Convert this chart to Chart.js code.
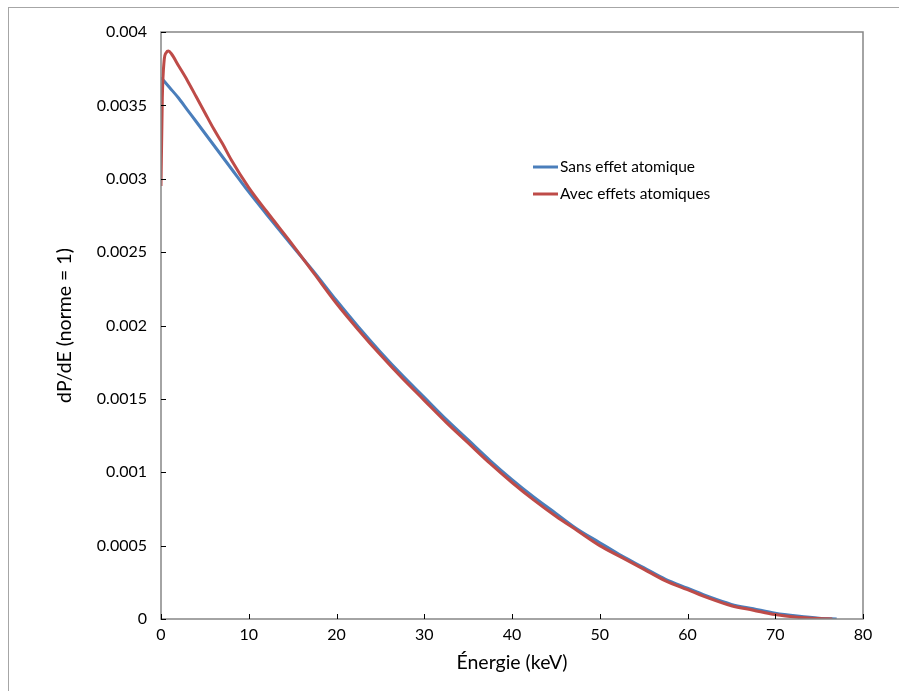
<!DOCTYPE html>
<html>
<head>
<meta charset="utf-8">
<script src="https://cdn.jsdelivr.net/npm/chart.js@4.4.0/dist/chart.umd.min.js"></script>
<style>
  body { margin: 0; background: #fff; }
  #wrap { position: relative; width: 899px; height: 691px; }
  #frame { position: absolute; left: 8px; top: 7px; right: -2px; bottom: -2px;
           border-left: 1px solid #a6a6a6; border-top: 1px solid #a6a6a6; }
  canvas { position: absolute; left: 0; top: 0; }
</style>
</head>
<body>
<div id="wrap">
  <div id="frame"></div>
  <canvas id="spectre" width="899" height="691"></canvas>
</div>
<script>
// Energy grid (keV) and spectra
const energySans = [0, 1, 2, 3, 4, 5, 6, 8, 10, 12, 15, 17.5, 20, 22.5, 25, 27.5, 30, 32.5, 35, 37.5, 40,
    42.5, 45, 47.5, 50, 52.5, 55, 57.5, 60, 62.5, 65, 67.5, 70, 72.5, 75, 77];
const sansEffet = [0.00369, 0.00362, 0.00355, 0.00347, 0.00339, 0.00331, 0.00323, 0.00307, 0.00291, 0.00276,
    0.00254, 0.00236, 0.00217, 0.00199, 0.00182, 0.00166, 0.00151, 0.00136, 0.00122, 0.00108, 0.00095,
    0.00083, 0.00072, 0.00061, 0.00052, 0.00043, 0.00035, 0.00027, 0.00021, 0.00015, 0.00010, 0.00007,
    0.00004, 0.00002, 0.000005, 0];

const energyAvec = [0, 0.15, 0.35, 0.6, 0.85, 1.2, 2, 3, 4, 5, 6, 7, 8, 10, 12, 15, 17.5, 20, 22.5, 25, 27.5, 30,
    32.5, 35, 37.5, 40, 42.5, 45, 47.5, 50, 52.5, 55, 57.5, 60, 62.5, 65, 67.5, 70, 72.5, 75, 76.5];
const avecEffets = [0.00295, 0.00355, 0.00380, 0.00386, 0.00387, 0.00385, 0.00377, 0.00367, 0.00356, 0.00345,
    0.00334, 0.00324, 0.00313, 0.00294, 0.00278, 0.00255, 0.00235, 0.00215, 0.00197, 0.00180, 0.00164, 0.00149,
    0.00134, 0.00120, 0.00106, 0.00093, 0.00081, 0.00070, 0.00060, 0.00050, 0.00042, 0.00034, 0.00026,
    0.00020, 0.00014, 0.00009, 0.00006, 0.00003, 0.000012, 0.000003, 0];

const xTicks = [0, 10, 20, 30, 40, 50, 60, 70, 80];
const yTickLabels = ['0', '0.0005', '0.001', '0.0015', '0.002', '0.0025', '0.003', '0.0035', '0.004'];

const blue = '#4a7ebb';
const red = '#be4b48';
const axisGray = '#868686';

function toPoints(xs, ys) {
    return xs.map((x, i) => ({ x: x, y: ys[i] }));
}

// Box, inner tick marks and the legend
const decorPlugin = {
    id: 'decor',
    afterDraw(chart) {
        const { ctx, chartArea: a, scales } = chart;
        ctx.save();
        ctx.strokeStyle = axisGray;
        ctx.lineWidth = 1.5;
        ctx.strokeRect(a.left, a.top, a.right - a.left, a.bottom - a.top);

        ctx.lineWidth = 1;
        ctx.strokeStyle = '#000';
        ctx.beginPath();
        scales.x.ticks.forEach(t => {
            const px = Math.round(scales.x.getPixelForValue(t.value)) + 0.5;
            ctx.moveTo(px, a.bottom);
            ctx.lineTo(px, a.bottom - 5);
        });
        scales.y.ticks.forEach(t => {
            const py = Math.round(scales.y.getPixelForValue(t.value)) + 0.5;
            ctx.moveTo(a.left, py);
            ctx.lineTo(a.left + 5, py);
        });
        ctx.stroke();

        // legend
        ctx.font = '15.5px Lato';
        ctx.textBaseline = 'middle';
        ctx.fillStyle = '#000';
        chart.data.datasets.forEach((ds, i) => {
            const y = 167 + i * 27;
            ctx.strokeStyle = ds.borderColor;
            ctx.lineWidth = 3;
            ctx.beginPath();
            ctx.moveTo(533, y);
            ctx.lineTo(558, y);
            ctx.stroke();
            ctx.fillText(ds.label, 560, y);
        });
        ctx.restore();
    }
};

const ctx = document.getElementById('spectre').getContext('2d');

new Chart(ctx, {
    type: 'scatter',
    data: {
        datasets: [
            {
                label: 'Sans effet atomique',
                data: toPoints(energySans, sansEffet),
                borderColor: blue,
                backgroundColor: blue,
                showLine: true,
                borderWidth: 3,
                pointRadius: 0,
                cubicInterpolationMode: 'monotone',
                order: 1
            },
            {
                label: 'Avec effets atomiques',
                data: toPoints(energyAvec, avecEffets),
                borderColor: red,
                backgroundColor: red,
                showLine: true,
                borderWidth: 3,
                pointRadius: 0,
                cubicInterpolationMode: 'monotone',
                order: 0
            }
        ]
    },
    options: {
        responsive: false,
        animation: false,
        layout: { padding: { top: 32, right: 36, left: 0, bottom: 0 } },
        plugins: {
            legend: { display: false },
            tooltip: { enabled: false }
        },
        scales: {
            x: {
                type: 'linear',
                min: 0,
                max: 80,
                afterBuildTicks: s => { s.ticks = xTicks.map(v => ({ value: v })); },
                grid: { display: false, drawTicks: false },
                border: { display: false },
                ticks: { color: '#000', font: { family: 'Lato', size: 16 }, padding: 6, maxRotation: 0 },
                title: {
                    display: true,
                    text: 'Énergie (keV)',
                    color: '#000',
                    font: { family: 'Lato', size: 19.5 },
                    padding: { top: 0, bottom: 17 }
                },
                afterFit: s => { s.height = 72; }
            },
            y: {
                min: 0,
                max: 0.004,
                afterBuildTicks: s => { s.ticks = yTickLabels.map((l, i) => ({ value: i * 0.0005 })); },
                grid: { display: false, drawTicks: false },
                border: { display: false },
                ticks: {
                    color: '#000',
                    font: { family: 'Lato', size: 16 },
                    padding: 14,
                    callback: (v, i) => yTickLabels[i]
                },
                title: {
                    display: true,
                    text: 'dP/dE (norme = 1)',
                    color: '#000',
                    font: { family: 'Lato', size: 19.5 },
                    padding: { top: 53, bottom: 0 }
                },
                afterFit: s => { s.width = 161; }
            }
        }
    },
    plugins: [decorPlugin]
});
</script>
</body>
</html>
